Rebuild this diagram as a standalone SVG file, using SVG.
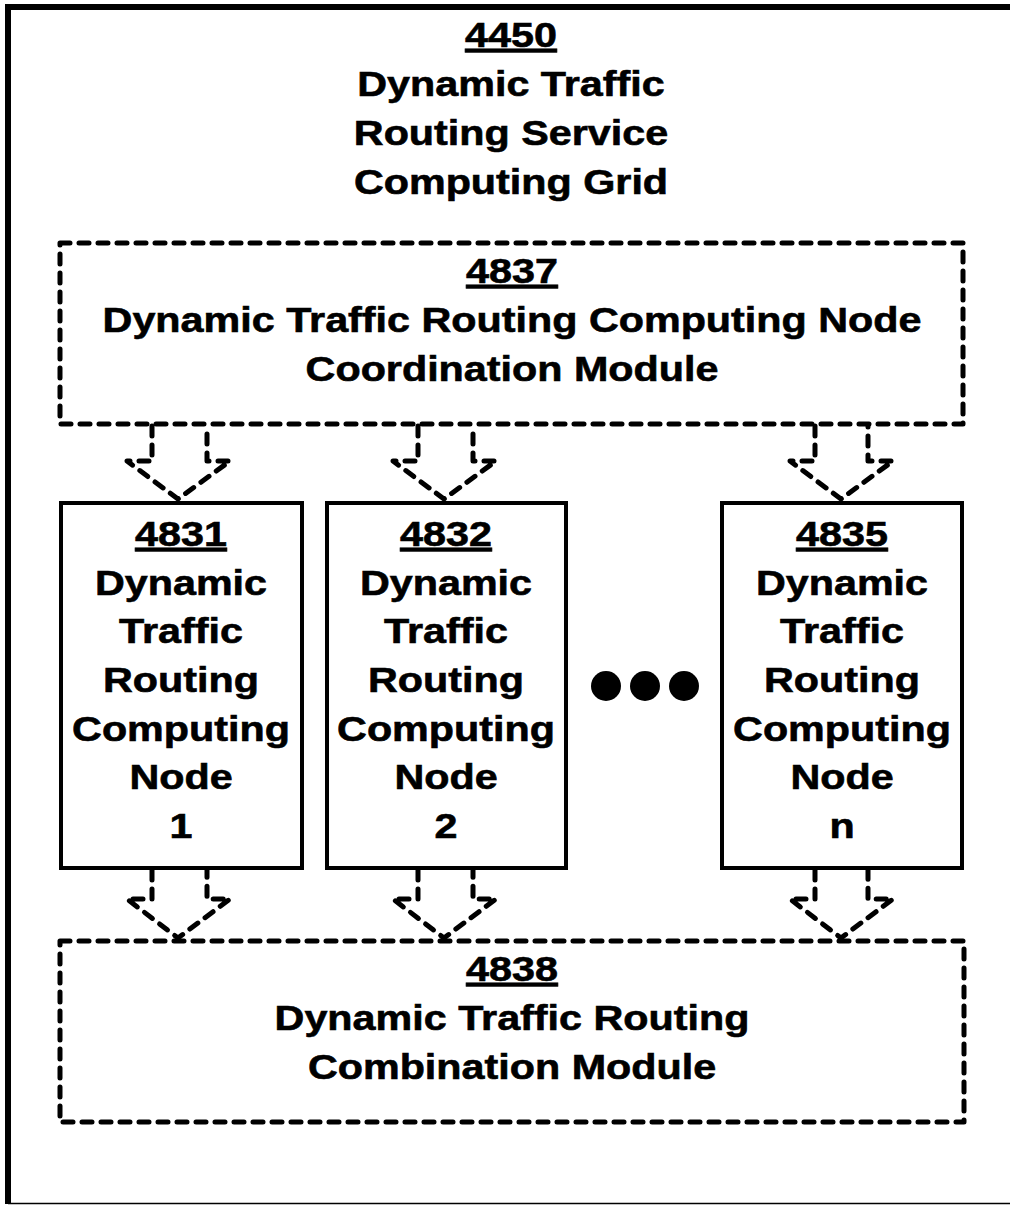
<svg xmlns="http://www.w3.org/2000/svg" width="1010" height="1205" viewBox="0 0 1010 1205">
<style>
text{font-family:"Liberation Sans",Arial,sans-serif;font-weight:bold;font-size:35px;fill:#000;stroke:#000;stroke-width:0.6;text-anchor:middle}
.u{text-decoration:underline}
.dash{fill:none;stroke:#000;stroke-width:5;stroke-dasharray:10 9;stroke-linecap:round;stroke-linejoin:round}
.node{fill:#fff;stroke:#000;stroke-width:4}
</style>
<rect width="1010" height="1205" fill="#fff"/>
<g id="frame">
<path d="M8 1204 V7 H1010" fill="none" stroke="#000" stroke-width="6"/>
<path d="M8 1203.5 H1010" fill="none" stroke="#000" stroke-width="1.5"/>
<g transform="translate(-91.98,0) scale(1.18,1)">
<text x="511" y="47" class="u">4450</text>
<text x="511" y="96">Dynamic Traffic</text>
<text x="511" y="145">Routing Service</text>
<text x="511" y="194">Computing Grid</text>
</g>
</g>
<g id="connectors">
<path class="dash" d="M152 426 V461 H127 L178 499 L230 461 H207 V426"/>
<path class="dash" d="M418 426 V461 H393 L444 499 L496 461 H473 V426"/>
<path class="dash" d="M815 426 V461 H790 L841 499 L893 461 H868 V426"/>
<path class="dash" d="M152 870 V899 H127 L178 938 L230 899 H207 V870"/>
<path class="dash" d="M418 870 V899 H393 L444 938 L496 899 H473 V870"/>
<path class="dash" d="M815 870 V899 H790 L841 938 L893 899 H868 V870"/>
</g>
<g id="n4837">
<rect class="dash" x="60" y="243" width="903" height="181"/>
<g transform="translate(-92.16,0) scale(1.18,1)">
<text x="512" y="283" class="u">4837</text>
<text x="512" y="332">Dynamic Traffic Routing Computing Node</text>
<text x="512" y="381">Coordination Module</text>
</g>
</g>
<g id="n4831">
<rect class="node" x="61" y="503" width="241" height="365"/>
<g transform="translate(-32.58,0) scale(1.18,1)">
<text x="181" y="546" class="u">4831</text>
<text x="181" y="595">Dynamic</text>
<text x="181" y="643">Traffic</text>
<text x="181" y="692">Routing</text>
<text x="181" y="741">Computing</text>
<text x="181" y="789">Node</text>
<text x="181" y="838">1</text>
</g>
</g>
<g id="n4832">
<rect class="node" x="327" y="503" width="239" height="365"/>
<g transform="translate(-80.28,0) scale(1.18,1)">
<text x="446" y="546" class="u">4832</text>
<text x="446" y="595">Dynamic</text>
<text x="446" y="643">Traffic</text>
<text x="446" y="692">Routing</text>
<text x="446" y="741">Computing</text>
<text x="446" y="789">Node</text>
<text x="446" y="838">2</text>
</g>
</g>
<g id="ellipsis">
<circle cx="606" cy="686" r="15"/>
<circle cx="645" cy="686" r="15"/>
<circle cx="684" cy="686" r="15"/>
</g>
<g id="n4835">
<rect class="node" x="722" y="503" width="240" height="365"/>
<g transform="translate(-151.56,0) scale(1.18,1)">
<text x="842" y="546" class="u">4835</text>
<text x="842" y="595">Dynamic</text>
<text x="842" y="643">Traffic</text>
<text x="842" y="692">Routing</text>
<text x="842" y="741">Computing</text>
<text x="842" y="789">Node</text>
<text x="842" y="838">n</text>
</g>
</g>
<g id="n4838">
<rect class="dash" x="60" y="941" width="904" height="181"/>
<g transform="translate(-92.16,0) scale(1.18,1)">
<text x="512" y="981" class="u">4838</text>
<text x="512" y="1030">Dynamic Traffic Routing</text>
<text x="512" y="1079">Combination Module</text>
</g>
</g>
</svg>
